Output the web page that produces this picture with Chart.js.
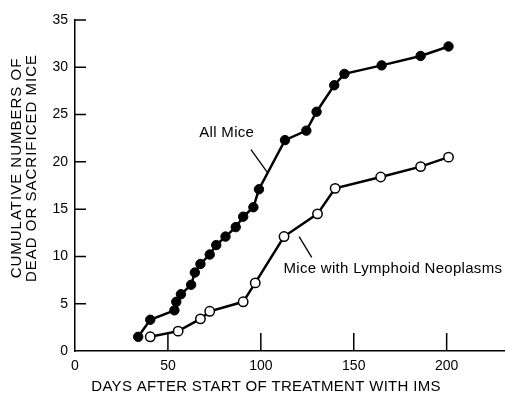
<!DOCTYPE html>
<html>
<head>
<meta charset="utf-8">
<script src="https://cdn.jsdelivr.net/npm/chart.js@4/dist/chart.umd.min.js"></script>
<style>
  html, body { margin: 0; padding: 0; background: #fff; }
  #chart { display: block; }
</style>
</head>
<body>
<canvas id="chart" width="505" height="395"></canvas>
<script>
// All mice (filled circles)
const allDays  = [34, 40.5, 53.5, 54.5, 57, 62.5, 64.5, 67.5, 72.5, 76, 81, 86.5, 90.5, 96, 99, 113, 124.5, 130, 139.5, 145, 165, 186, 201];
const allCount = [1.5, 3.3, 4.3, 5.2, 6, 7, 8.3, 9.2, 10.2, 11.2, 12.1, 13.1, 14.2, 15.2, 17.1, 22.3, 23.3, 25.3, 28.1, 29.3, 30.2, 31.2, 32.2];

// Mice with lymphoid neoplasms (open circles)
const lymphDays  = [40.5, 55.5, 67.5, 72.5, 90.5, 97, 112.5, 130.5, 140, 164.5, 186, 201];
const lymphCount = [1.5, 2.1, 3.4, 4.2, 5.2, 7.2, 12.1, 14.5, 17.2, 18.4, 19.5, 20.5];

const xTicks = [0, 50, 100, 150, 200];
const yTicks = [0, 5, 10, 15, 20, 25, 30, 35];

const xTitle = 'DAYS AFTER START OF TREATMENT WITH IMS';
const yTitle = ['CUMULATIVE NUMBERS OF', 'DEAD OR SACRIFICED MICE'];

// labels written on the plot, anchored in data units
const notes = [
  { text: 'All Mice', x: 66.9, y: 22.6, from: [94.7, 21.3], to: [103.5, 18.9] },
  { text: 'Mice with Lymphoid Neoplasms', x: 112.2, y: 8.2, from: [120.6, 12.1], to: [127.4, 9.9] }
];

const FONT = '"Liberation Sans", Arial, Helvetica, sans-serif';

function pts(xs, ys){
  return xs.map((x, i) => ({ x: x, y: ys[i] }));
}

const paperPlugin = {
  id: 'paper',
  afterDraw(chart){
    const ctx = chart.ctx;
    const xs = chart.scales.x, ys = chart.scales.y;
    const area = chart.chartArea;
    ctx.save();
    ctx.strokeStyle = '#000';
    ctx.lineWidth = 1.5;

    // inward tick marks
    ctx.beginPath();
    xTicks.forEach(v => {
      if(v === 0) return;
      const px = xs.getPixelForValue(v);
      ctx.moveTo(px, area.bottom);
      ctx.lineTo(px, area.bottom - 18);
    });
    yTicks.forEach(v => {
      if(v === 0) return;
      const py = ys.getPixelForValue(v);
      ctx.moveTo(area.left, py);
      ctx.lineTo(area.left + 11, py);
    });
    ctx.stroke();

    // note leaders + text
    ctx.lineWidth = 1.3;
    ctx.fillStyle = '#000';
    ctx.font = '15px ' + FONT;
    ctx.letterSpacing = '0.3px';
    ctx.textBaseline = 'alphabetic';
    ctx.textAlign = 'left';
    notes.forEach(n => {
      ctx.beginPath();
      ctx.moveTo(xs.getPixelForValue(n.from[0]), ys.getPixelForValue(n.from[1]));
      ctx.lineTo(xs.getPixelForValue(n.to[0]), ys.getPixelForValue(n.to[1]));
      ctx.stroke();
      ctx.fillText(n.text, xs.getPixelForValue(n.x), ys.getPixelForValue(n.y));
    });

    // axis titles
    ctx.textAlign = 'center';
    ctx.textBaseline = 'middle';
    ctx.font = '15px ' + FONT;
    ctx.letterSpacing = '0.3px';
    ctx.fillText(xTitle, 266, 387);

    ctx.letterSpacing = '1px';
    ctx.translate(24, 168);
    ctx.rotate(-Math.PI / 2);
    ctx.fillText(yTitle[0], 0, -7.5);
    ctx.fillText(yTitle[1], 0, 7.5);
    ctx.restore();
  }
};

new Chart(document.getElementById('chart'), {
  type: 'scatter',
  data: {
    datasets: [
      {
        label: 'All Mice',
        data: pts(allDays, allCount),
        showLine: true,
        borderColor: '#000',
        borderWidth: 2.5,
        pointRadius: 4.7,
        pointBackgroundColor: '#000',
        pointBorderColor: '#000',
        pointBorderWidth: 1
      },
      {
        label: 'Mice with Lymphoid Neoplasms',
        data: pts(lymphDays, lymphCount),
        showLine: true,
        borderColor: '#000',
        borderWidth: 2.5,
        pointRadius: 4.7,
        pointBackgroundColor: '#fff',
        pointBorderColor: '#000',
        pointBorderWidth: 1.5
      }
    ]
  },
  options: {
    responsive: false,
    animation: false,
    devicePixelRatio: 1,
    layout: { autoPadding: false, padding: { top: 20, right: 0, left: 0, bottom: 0 } },
    plugins: {
      legend: { display: false },
      tooltip: { enabled: false }
    },
    scales: {
      x: {
        type: 'linear',
        min: 0,
        max: 231.4,
        afterBuildTicks(scale){ scale.ticks = xTicks.map(v => ({ value: v })); },
        afterFit(scale){
          scale.height = 44;
          scale.paddingLeft = 0;
          scale.paddingRight = 0;
        },
        grid: { display: false, drawTicks: false },
        border: { display: true, color: '#000', width: 1.5 },
        ticks: { color: '#000', padding: 7, maxRotation: 0, font: { family: FONT, size: 14 } }
      },
      y: {
        type: 'linear',
        min: 0,
        max: 35,
        afterBuildTicks(scale){ scale.ticks = yTicks.map(v => ({ value: v })); },
        afterFit(scale){ scale.width = 75; },
        grid: { display: false, drawTicks: false },
        border: { display: true, color: '#000', width: 1.5 },
        ticks: { color: '#000', padding: 7, font: { family: FONT, size: 14 } }
      }
    }
  },
  plugins: [paperPlugin]
});
</script>
</body>
</html>
